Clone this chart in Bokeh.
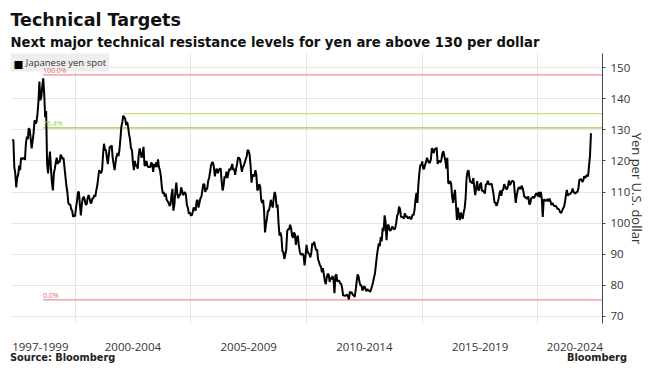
from bokeh.plotting import figure
from bokeh.models import FixedTicker, Range1d, Title, Label, LinearAxis
from bokeh.embed import file_html
from bokeh.resources import INLINE
from bokeh.core.properties import value

FONT = "Open Sans"
TFONT = "DejaVu Sans"

# ---- Data: USD/JPY spot (mid-month, month-end pairs) ----
yen_1997 = [126.5, 126.8, 118.0, 116.0, 111.5, 114.6, 115.5, 118.5, 117.0, 121.0,
            120.5, 120.8, 121.0, 120.3, 125.5, 127.8, 127.0, 130.5]          # Apr-Dec
yen_1998 = [130.0, 127.0, 124.0, 126.5, 129.0, 133.0, 132.0, 132.5, 135.0, 139.0, 145.5, 139.5,
            140.5, 144.0, 146.5, 141.5, 134.0, 136.0, 119.0, 116.0, 120.0, 123.0, 117.5, 113.0]
yen_1999 = [110.5, 116.0, 117.5, 119.5, 121.0, 119.0, 120.0, 119.5, 122.0, 121.5, 120.5, 121.0,
            118.0, 115.0, 112.0, 110.0, 106.5, 106.0, 106.0, 104.5, 104.0, 102.0, 102.5, 102.2]
yen_2000 = [105.0, 107.0, 110.0, 110.0, 106.0, 102.5, 106.0, 108.0, 108.5, 107.5, 106.0, 106.0,
            108.0, 109.0, 108.0, 106.5, 106.5, 108.0, 108.0, 109.0, 108.5, 110.5, 112.0, 114.5]
yen_2001 = [117.0, 116.5, 116.0, 117.0, 122.0, 125.5, 123.5, 123.5, 121.0, 119.0, 122.0, 124.5,
            124.5, 125.0, 121.0, 119.0, 117.0, 119.5, 121.5, 122.5, 121.5, 123.5, 127.0, 131.0]
yen_2002 = [132.5, 134.5, 134.0, 133.5, 131.5, 132.5, 131.0, 128.5, 127.0, 124.0, 123.5, 119.5,
            117.0, 120.0, 118.5, 118.5, 117.5, 122.0, 124.0, 122.5, 121.0, 122.5, 124.5, 118.5]
yen_2003 = [118.5, 120.0, 118.5, 118.0, 118.0, 118.0, 119.5, 119.0, 116.5, 119.0, 118.0, 119.5,
            118.0, 120.5, 118.0, 117.0, 115.0, 111.5, 109.5, 110.0, 108.5, 109.5, 107.5, 107.0]
yen_2004 = [106.5, 105.5, 106.0, 109.0, 111.0, 104.0, 106.0, 110.0, 113.0, 109.5, 108.0, 109.0,
            109.0, 111.5, 110.5, 109.0, 109.5, 110.0, 109.0, 105.8, 105.0, 103.0, 103.5, 102.5]
yen_2005 = [102.5, 103.5, 105.0, 104.5, 104.0, 107.0, 107.5, 105.0, 106.5, 108.0, 108.5, 110.5,
            112.5, 112.5, 110.0, 111.0, 111.0, 113.5, 114.5, 116.5, 118.5, 119.5, 119.5, 118.0]
yen_2006 = [115.0, 117.0, 117.5, 116.0, 117.0, 117.5, 117.5, 113.5, 110.5, 112.0, 115.0, 114.5,
            116.5, 114.5, 116.0, 117.5, 117.0, 118.0, 119.0, 117.0, 117.5, 115.5, 117.5, 119.0]
yen_2007 = [121.0, 121.0, 120.5, 118.5, 116.5, 118.0, 118.5, 119.5, 120.5, 121.5, 123.5, 123.2,
            122.0, 118.5, 113.0, 115.5, 115.5, 115.0, 117.0, 115.5, 110.5, 111.0, 112.5, 111.7]
yen_2008 = [107.5, 106.5, 107.5, 104.0, 97.0, 99.7, 101.5, 104.0, 104.0, 105.5, 107.5, 106.0,
            105.0, 108.0, 110.0, 108.8, 105.0, 106.0, 100.0, 96.0, 97.0, 95.5, 91.0, 90.6]
yen_2009 = [88.5, 89.9, 91.5, 97.5, 98.0, 98.0, 99.5, 98.5, 96.0, 95.3, 97.0, 96.4,
            93.0, 95.2, 96.0, 93.0, 91.0, 89.8, 90.0, 90.2, 89.5, 86.4, 89.5, 93.0]
yen_2010 = [91.0, 90.3, 90.0, 89.0, 90.5, 93.5, 93.0, 94.0, 92.5, 91.3, 91.5, 88.4,
            87.5, 86.4, 86.0, 84.2, 85.5, 83.5, 81.5, 80.4, 82.5, 83.7, 83.5, 81.1]
yen_2011 = [82.5, 82.0, 83.0, 81.8, 77.5, 83.1, 83.5, 81.2, 81.5, 81.5, 80.5, 80.5,
            79.0, 76.7, 76.8, 76.6, 76.8, 77.0, 76.5, 75.5, 78.0, 77.6, 77.8, 76.9]
yen_2012 = [76.8, 76.3, 78.5, 81.2, 83.5, 82.9, 81.0, 80.0, 80.0, 78.3, 79.0, 79.8,
            79.0, 78.1, 78.8, 78.4, 78.3, 77.9, 78.8, 79.8, 81.0, 82.5, 83.8, 86.7]
yen_2013 = [89.5, 91.7, 93.5, 92.6, 95.5, 94.2, 98.5, 97.4, 102.5, 100.4, 94.5, 99.1,
            99.5, 97.9, 97.5, 98.2, 99.0, 98.2, 98.0, 98.4, 100.0, 102.4, 103.0, 105.3]
yen_2014 = [104.5, 102.0, 102.0, 101.8, 101.5, 103.2, 102.0, 102.3, 101.5, 101.8, 102.0, 101.3,
            101.5, 102.8, 102.5, 104.1, 107.5, 109.7, 106.5, 112.3, 116.0, 118.7, 118.5, 119.8]
yen_2015 = [117.5, 117.5, 118.8, 119.6, 121.0, 120.1, 119.5, 119.4, 120.5, 124.1, 123.5, 122.5,
            123.8, 123.9, 124.3, 119.0, 120.0, 119.9, 119.5, 120.6, 122.5, 123.1, 121.5, 120.2]
yen_2016 = [117.5, 121.0, 113.0, 112.7, 113.5, 112.6, 108.5, 106.5, 109.0, 110.7, 106.0, 101.0,
            105.0, 102.1, 101.0, 103.4, 102.0, 101.4, 103.5, 104.8, 108.0, 114.5, 116.5, 117.0]
yen_2017 = [114.5, 113.0, 113.5, 112.7, 114.5, 111.4, 109.0, 111.5, 113.5, 110.8, 110.5, 112.4,
            113.0, 110.3, 110.5, 110.0, 109.5, 112.5, 112.5, 113.6, 112.5, 112.5, 112.5, 112.7]
yen_2018 = [111.0, 109.2, 106.5, 106.7, 105.5, 106.3, 107.5, 109.3, 110.5, 108.8, 110.5, 110.7,
            112.5, 111.9, 111.0, 111.0, 112.0, 113.7, 112.2, 112.9, 113.5, 113.5, 113.3, 109.7]
yen_2019 = [106.5, 108.9, 110.5, 111.4, 111.5, 110.9, 112.0, 111.4, 110.0, 108.3, 108.5, 107.9,
            108.0, 108.6, 106.0, 106.3, 108.0, 108.1, 108.5, 108.0, 108.8, 109.5, 109.5, 108.6]
yen_2020 = [110.0, 108.3, 110.0, 107.9, 102.0, 107.5, 107.5, 107.2, 107.2, 107.8, 107.0, 107.9,
            107.0, 105.8, 106.5, 105.9, 105.5, 105.5, 105.4, 104.7, 104.6, 104.3, 103.5, 103.3]
yen_2021 = [103.8, 104.7, 105.2, 106.6, 109.0, 110.7, 108.8, 109.3, 109.3, 109.6, 110.0, 111.1,
            110.0, 109.7, 109.5, 110.0, 110.0, 111.3, 114.0, 113.95, 114.2, 113.2, 113.7, 115.1]
yen_2022 = [114.5, 115.1, 115.5, 115.0, 118.5, 121.7, 128.9]                    # Jan-mid Apr

series_years = list(range(1997, 2023))
series_values = [yen_1997, yen_1998, yen_1999, yen_2000, yen_2001, yen_2002, yen_2003,
                 yen_2004, yen_2005, yen_2006, yen_2007, yen_2008, yen_2009, yen_2010,
                 yen_2011, yen_2012, yen_2013, yen_2014, yen_2015, yen_2016, yen_2017,
                 yen_2018, yen_2019, yen_2020, yen_2021, yen_2022]
first_month = {1997: 4}

# Fibonacci retracement levels and resistance level
fib_labels = ["100.0%", "76.4%", "0.0%"]
fib_levels = [147.66, 130.6, 75.35]
fib_start = 1998.61
resist_level = [135.15]
resist_start = [2002.08]

period_labels = ["1997-1999", "2000-2004", "2005-2009", "2010-2014", "2015-2019", "2020-2024"]
period_centers = [1998.5, 2002.5, 2007.5, 2012.5, 2017.5, 2021.6]
grid_years = [2000, 2005, 2010, 2015, 2020]
y_ticks = [70, 80, 90, 100, 110, 120, 130, 140, 150]

footer_texts = ["Source: Bloomberg", "Bloomberg"]
footer_pos = [1999.46, 2022.55]

legend_label = "Japanese yen spot"

# ---- build time axis ----
t, v = [], []
for yr, vals in zip(series_years, series_values):
    m0 = first_month.get(yr, 1)
    for i, val in enumerate(vals):
        t.append(yr + (m0 - 1) / 12 + (i + 1) / 24)
        v.append(val)

x_start, x_end = 1997.21, 2022.79
y_start, y_end = 67.75, 154.5

RED = "#f08e8e"
RED_TXT = "#e46a6a"
GREEN_LO = "#9ccd52"
GREEN_HI = "#c2e07a"
GRID = "#e6e6e6"
TXT = "#333333"

p = figure(width=661, height=375,
           x_range=Range1d(x_start, x_end), y_range=Range1d(y_start, y_end),
           y_axis_location="right", toolbar_location=None, output_backend="svg",
           min_border_left=10, min_border_right=59, min_border_bottom=52, min_border_top=53,
           outline_line_color=None, background_fill_color="white", border_fill_color="white")

# level lines
p.segment(x0=[fib_start] * len(fib_levels), y0=fib_levels, x1=[x_end] * len(fib_levels),
          y1=fib_levels, line_color=[RED, GREEN_LO, RED], line_width=1.3)
p.segment(x0=resist_start, y0=resist_level, x1=[x_end], y1=resist_level,
          line_color=GREEN_HI, line_width=1.3)

# series
p.line(t, v, line_color="black", line_width=2.0)

# legend box (label with leading no-break spaces leaves room for the swatch) + swatch
p.add_layout(Label(x=x_start, y=y_end, x_offset=0, y_offset=1,
                   text="\u00A0" * 5 + legend_label, text_font=FONT,
                   text_font_size="9.5px", text_color=TXT, text_baseline="top",
                   text_align="left", background_fill_color="#eeeeee",
                   background_fill_alpha=1.0, padding=3))
p.add_layout(Label(x=x_start, y=y_end, x_offset=3, y_offset=-10,
                   text="\u25A0", text_font="DejaVu Sans", text_font_size="10.5px",
                   text_color="black", text_baseline="middle", text_align="left"))

# level labels (drawn above everything)
p.text(x=[fib_start] * len(fib_levels), y=fib_levels, text=fib_labels,
       text_color=[RED_TXT, GREEN_LO, RED_TXT], text_font=value(FONT),
       text_font_size="7px", text_baseline="bottom", text_align="left", level="overlay")

# grids
p.ygrid.ticker = FixedTicker(ticks=y_ticks)
p.ygrid.grid_line_color = GRID
p.xgrid.ticker = FixedTicker(ticks=grid_years)
p.xgrid.grid_line_color = GRID

# right axis
ya = p.yaxis[0]
ya.ticker = FixedTicker(ticks=y_ticks)
ya.axis_line_color = "#444444"
ya.major_tick_line_color = "#444444"
ya.major_tick_out = 3
ya.major_tick_in = 0
ya.minor_tick_line_color = None
ya.major_label_standoff = 5
ya.major_label_text_font = FONT
ya.major_label_text_font_size = "11.5px"
ya.major_label_text_color = TXT
ya.axis_label = "Yen per U.S. dollar"
ya.axis_label_text_font = FONT
ya.axis_label_text_font_size = "13px"
ya.axis_label_text_font_style = "normal"
ya.axis_label_text_color = TXT
ya.axis_label_standoff = -5

# bottom axis with period labels
xa = p.xaxis[0]
xa.ticker = FixedTicker(ticks=period_centers)
xa.major_label_overrides = {c: lab for c, lab in zip(period_centers, period_labels)}
xa.axis_line_color = None
xa.major_tick_line_color = None
xa.minor_tick_line_color = None
xa.major_tick_out = 0
xa.major_tick_in = 0
xa.major_label_standoff = 19
xa.major_label_text_font = FONT
xa.major_label_text_font_size = "11.5px"
xa.major_label_text_color = TXT

# footer row (source + brand) as a second, line-less axis
fa = LinearAxis(ticker=FixedTicker(ticks=footer_pos),
                major_label_overrides={c: s for c, s in zip(footer_pos, footer_texts)},
                axis_line_color=None, major_tick_line_color=None, minor_tick_line_color=None,
                major_tick_out=0, major_tick_in=0, major_label_standoff=-2,
                major_label_text_font=TFONT, major_label_text_font_size="9.8px",
                major_label_text_font_style="bold", major_label_text_color="#222222")
p.add_layout(fa, "below")

# titles
sub = Title(text="Next major technical resistance levels for yen are above 130 per dollar",
            align="left", text_font=TFONT, text_font_size="13.2px", text_font_style="bold",
            text_color="#111111", standoff=7, offset=0)
main = Title(text="Technical Targets", align="left", text_font=TFONT,
             text_font_size="17.5px", text_font_style="bold", text_color="#111111",
             standoff=0, offset=0)
p.add_layout(sub, "above")
p.add_layout(main, "above")

open("out.html", "w").write(file_html(p, INLINE))
